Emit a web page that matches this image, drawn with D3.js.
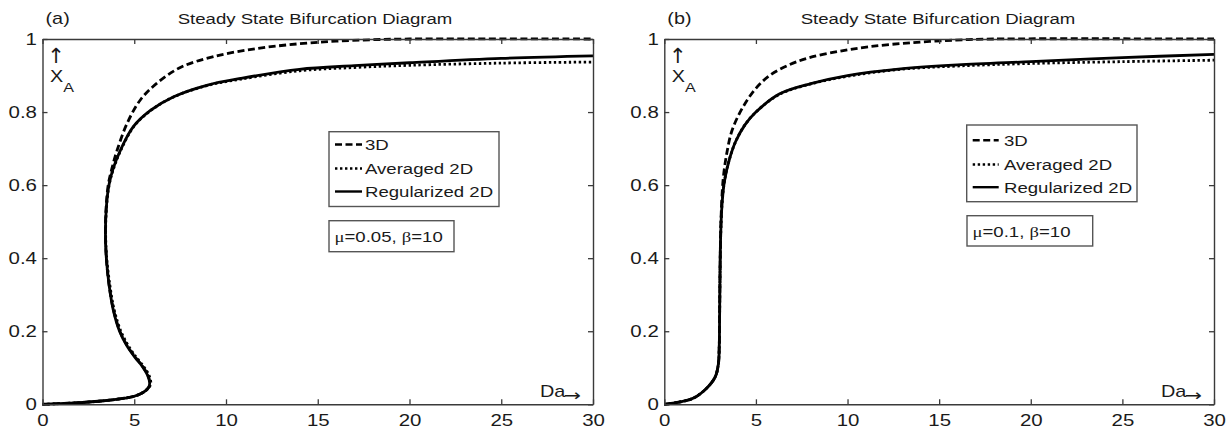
<!DOCTYPE html>
<html>
<head>
<meta charset="utf-8">
<script src="https://cdn.jsdelivr.net/npm/d3@7"></script>
<style>
  body { margin: 0; background: #fff; }
  svg { display: block; }
</style>
</head>
<body>
<svg id="chart" width="1232" height="432"></svg>
<script>
const xTicks = [0, 5, 10, 15, 20, 25, 30];
const yTicks = [0, 0.2, 0.4, 0.6, 0.8, 1];
const yTickLabels = ["0", "0.2", "0.4", "0.6", "0.8", "1"];
const seriesNames = ["3D", "Averaged 2D", "Regularized 2D"];
const chartTitle = "Steady State Bifurcation Diagram";

// panel (a): mu = 0.05, beta = 10   — points are [Da, X_A]
const regA = [[0,0],[1.5,0.003],[3.2,0.009],[4.5,0.017],[5.0,0.022],[5.5,0.033],[5.78,0.046],[5.84,0.058],[5.72,0.08],[5.45,0.103],[5.05,0.128],[4.6,0.16],[4.2,0.2],[3.85,0.26],[3.62,0.33],[3.48,0.4],[3.43,0.47],[3.48,0.54],[3.62,0.6],[3.85,0.645],[4.25,0.696],[4.95,0.76],[5.9,0.805],[7.15,0.842],[9,0.874],[10.8,0.892],[14,0.917],[17,0.927],[20,0.935],[25,0.947],[30,0.954]];
const avgA = [[0,0],[1.5,0.003],[3.2,0.009],[4.5,0.017],[5.0,0.022],[5.5,0.033],[5.8,0.046],[5.9,0.058],[5.8,0.08],[5.52,0.103],[5.12,0.128],[4.68,0.16],[4.27,0.2],[3.9,0.26],[3.66,0.33],[3.5,0.4],[3.44,0.47],[3.49,0.54],[3.63,0.6],[3.87,0.645],[4.27,0.696],[4.97,0.76],[5.92,0.805],[7.17,0.842],[9,0.873],[10.8,0.89],[14,0.913],[17,0.922],[20,0.928],[25,0.934],[30,0.937]];
const threeDA = [[0,0],[1.5,0.003],[3.2,0.009],[4.5,0.017],[5.0,0.022],[5.5,0.033],[5.78,0.046],[5.85,0.058],[5.74,0.08],[5.47,0.103],[5.07,0.128],[4.62,0.16],[4.22,0.2],[3.86,0.26],[3.62,0.33],[3.48,0.4],[3.43,0.47],[3.47,0.54],[3.58,0.6],[3.78,0.645],[4.07,0.696],[4.61,0.769],[5.33,0.833],[6.24,0.879],[7.51,0.922],[9.33,0.952],[11.7,0.974],[14,0.987],[16,0.994],[18,0.998],[20,1.0],[30,1.0]];

// panel (b): mu = 0.1, beta = 10
const regB = [[0,0],[0.8,0.006],[1.6,0.017],[2.33,0.045],[2.78,0.075],[2.95,0.11],[3.0,0.16],[3.02,0.25],[3.04,0.35],[3.07,0.45],[3.14,0.54],[3.28,0.61],[3.55,0.67],[3.9,0.72],[4.4,0.765],[5.0,0.8],[6.3,0.85],[8,0.878],[10,0.9],[12.9,0.918],[16,0.929],[20,0.938],[25,0.949],[30,0.958]];
const avgB = [[0,0],[0.8,0.006],[1.6,0.017],[2.33,0.045],[2.78,0.075],[2.95,0.11],[3.0,0.16],[3.02,0.25],[3.04,0.35],[3.07,0.45],[3.14,0.54],[3.28,0.61],[3.55,0.67],[3.9,0.72],[4.4,0.765],[5.0,0.8],[6.3,0.849],[8,0.877],[10,0.898],[12.9,0.917],[16,0.926],[20,0.933],[25,0.938],[30,0.942]];
const threeDB = [[0,0],[0.8,0.006],[1.6,0.017],[2.33,0.045],[2.78,0.075],[2.95,0.11],[3.0,0.16],[3.02,0.25],[3.04,0.35],[3.07,0.45],[3.12,0.54],[3.22,0.62],[3.42,0.69],[3.7,0.75],[4.25,0.81],[5.0,0.865],[5.8,0.902],[6.8,0.929],[7.85,0.948],[9.5,0.966],[11.2,0.979],[13.5,0.99],[15.9,0.997],[18,1.0],[30,1.0]];

const SX = 1.24; // glyphs in the figure are stretched horizontally
const FONT = "'Liberation Sans', Arial, Helvetica, sans-serif";
const ARROWS = "'DejaVu Sans', sans-serif";
const INK = "#1a1a1a";
const AXIS = "#3a3a3a";
const dashes = ["7,3.5", "2.4,2.6", null];

const svg = d3.select("#chart");

function label(g, x, y, s, size, anchor) {
  return g.append("text")
    .attr("transform", `translate(${x},${y}) scale(${SX},1)`)
    .attr("font-family", FONT)
    .attr("font-size", size)
    .attr("fill", INK)
    .attr("text-anchor", anchor || "start")
    .text(s);
}

const panels = [
  { tag: "(a)", mu: "0.05", left: 42.5, right: 593, series: [threeDA, avgA, regA],
    titleX: 315, legend: { x: 329, y: 131.7, w: 170, h: 74.8, rows: [150, 174, 197], sx: 335, sl: 27, tx: 365 },
    pbox: { x: 329, y: 220.7, w: 125, h: 31, tx: 334.5, ty: 241.7 } },
  { tag: "(b)", mu: "0.1", left: 664.3, right: 1214, series: [threeDB, avgB, regB],
    titleX: 938, legend: { x: 966.7, y: 125, w: 170.3, h: 76.7, rows: [145.7, 170, 192.7], sx: 972.7, sl: 26, tx: 1004 },
    pbox: { x: 967, y: 215.7, w: 125.7, h: 30.3, tx: 972.5, ty: 236.7 } }
];

const plotTop = 39, plotBottom = 404.3;

panels.forEach((p) => {
  const x = d3.scaleLinear().domain([0, 30]).range([p.left, p.right]);
  const y = d3.scaleLinear().domain([0, 1]).range([plotBottom, plotTop]);
  const g = svg.append("g");

  // curves
  const line = d3.line()
    .x((d) => x(d[0]))
    .y((d) => y(d[1]))
    .curve(d3.curveCatmullRom.alpha(0.5));

  [2, 1, 0].forEach((i) => {
    g.append("path")
      .datum(p.series[i])
      .attr("fill", "none")
      .attr("stroke", "#000")
      .attr("stroke-width", 2.8)
      .attr("stroke-linejoin", "round")
      .attr("stroke-dasharray", dashes[i])
      .attr("d", line);
  });

  // axes box, ticks pointing in
  const styleAxis = (a) => {
    a.selectAll("path,line").attr("stroke", AXIS).attr("stroke-width", 1.3);
    a.selectAll("text").attr("font-family", FONT).attr("font-size", 16.5).attr("fill", INK);
  };
  g.append("g")
    .attr("transform", `translate(0,${plotBottom})`)
    .call(d3.axisBottom(x).tickValues(xTicks).tickSizeInner(-5).tickSizeOuter(0).tickPadding(10))
    .call(styleAxis)
    .call((a) => a.selectAll("text").attr("transform", `scale(${SX},1)`));
  g.append("g")
    .attr("transform", `translate(0,${plotTop})`)
    .call(d3.axisTop(x).tickValues(xTicks).tickSizeInner(-5).tickSizeOuter(0).tickFormat(""))
    .call(styleAxis);
  g.append("g")
    .attr("transform", `translate(${p.left},0)`)
    .call(d3.axisLeft(y).tickValues(yTicks).tickSizeInner(-5).tickSizeOuter(0)
      .tickFormat((d, i) => yTickLabels[i]))
    .call(styleAxis)
    .call((a) => a.selectAll("text").attr("x", 0).attr("transform", `translate(-5.5,0) scale(${SX},1)`));
  g.append("g")
    .attr("transform", `translate(${p.right},0)`)
    .call(d3.axisRight(y).tickValues(yTicks).tickSizeInner(-5).tickSizeOuter(0).tickFormat(""))
    .call(styleAxis);
  g.selectAll(".domain").attr("stroke", AXIS).attr("stroke-width", 1.4);

  // titles
  label(g, p.left + 3, 23.5, p.tag, 16);
  label(g, p.titleX, 24, chartTitle, 15, "middle");

  // axis labels inside the box
  g.append("text")
    .attr("x", p.left + 13.5).attr("y", 63)
    .attr("font-family", ARROWS).attr("font-size", 21)
    .attr("fill", INK).attr("text-anchor", "middle")
    .text("\u2191");
  const xa = label(g, p.left + 7.5, 82, "X", 16);
  xa.append("tspan").attr("font-size", 13).attr("dy", 10).text("A");
  label(g, p.right - 53, 397, "Da", 16);
  g.append("text")
    .attr("x", p.right - 29.5).attr("y", 401.5)
    .attr("font-family", ARROWS).attr("font-size", 16)
    .attr("fill", INK)
    .attr("transform", `translate(${p.right - 29.5},0) scale(1.3,1) translate(${-(p.right - 29.5)},0)`)
    .text("\u2192");

  // legend
  const L = p.legend;
  g.append("rect")
    .attr("x", L.x).attr("y", L.y).attr("width", L.w).attr("height", L.h)
    .attr("fill", "#fff").attr("stroke", "#555").attr("stroke-width", 1.4);
  seriesNames.forEach((name, i) => {
    const ly = L.rows[i] - 5.5;
    g.append("line")
      .attr("x1", L.sx).attr("x2", L.sx + L.sl)
      .attr("y1", ly).attr("y2", ly)
      .attr("stroke", "#000").attr("stroke-width", 2.4)
      .attr("stroke-dasharray", dashes[i]);
    label(g, L.tx, L.rows[i], name, 15);
  });

  // parameter box
  const B = p.pbox;
  g.append("rect")
    .attr("x", B.x).attr("y", B.y).attr("width", B.w).attr("height", B.h)
    .attr("fill", "#fff").attr("stroke", "#555").attr("stroke-width", 1.4);
  const pt = label(g, B.tx, B.ty, "", 15);
  pt.append("tspan").attr("font-family", "'Liberation Serif', 'DejaVu Serif', serif").text("\u03bc");
  pt.append("tspan").text(`=${p.mu}, `);
  pt.append("tspan").attr("font-family", "'Liberation Serif', 'DejaVu Serif', serif").text("\u03b2");
  pt.append("tspan").text("=10");
});
</script>
</body>
</html>
